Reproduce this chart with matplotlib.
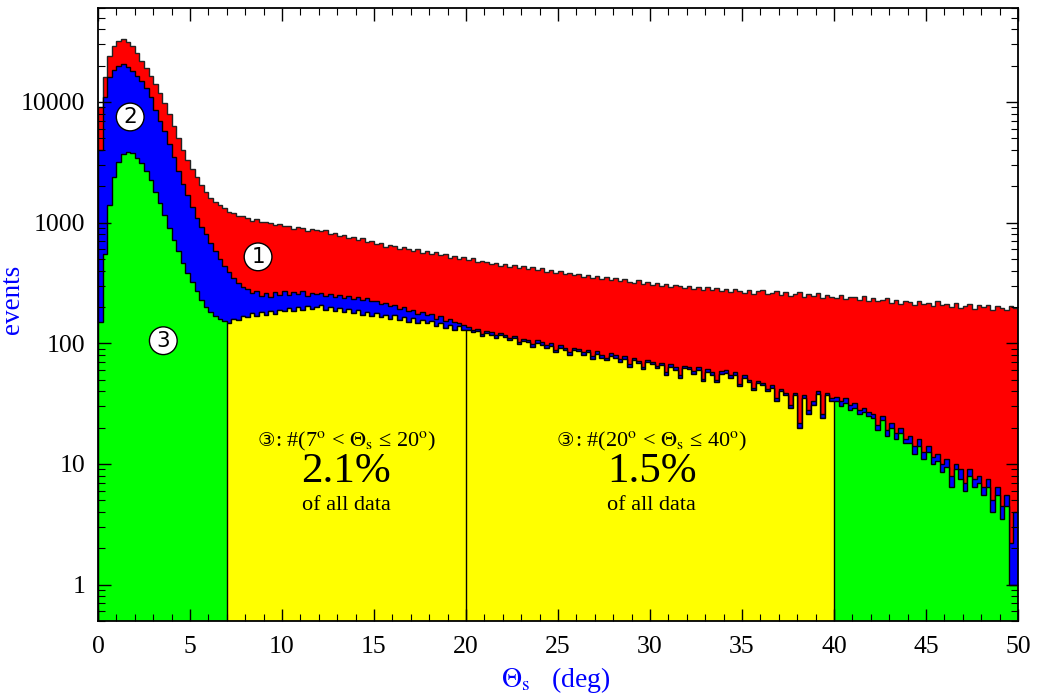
import numpy as np
import matplotlib
matplotlib.use("Agg")
import matplotlib.pyplot as plt
from matplotlib import ticker
from matplotlib.offsetbox import TextArea, HPacker, AnnotationBbox

plt.rcParams['font.family'] = ['Liberation Serif', 'DejaVu Sans']
plt.rcParams['mathtext.fontset'] = 'stix'

# histogram range (deg), 0.25 deg bins
theta_lo, theta_hi = 0.0, 50.0

# (1) all events
red = [
    9000, 16000, 24000, 29000, 32000, 33000, 31500, 29000,
    25500, 22000, 19000, 16500, 14000, 11800, 9800, 8000,
    6300, 5000, 4000, 3300, 2800, 2400, 2050, 1800,
    1600, 1470, 1390, 1310, 1235, 1195, 1140, 1125,
    1095, 1040, 1070, 1005, 1020, 990, 950, 975,
    930, 945, 890, 915, 905, 855, 880, 870,
    850, 865, 810, 825, 775, 790, 745, 760,
    720, 745, 690, 700, 660, 675, 630, 650,
    640, 605, 625, 610, 580, 600, 565, 580,
    550, 570, 535, 545, 512, 530, 500, 515,
    490, 505, 470, 482, 475, 455, 462, 440,
    455, 432, 448, 420, 438, 412, 425, 405,
    418, 392, 402, 385, 395, 372, 380, 368,
    375, 355, 366, 350, 362, 340, 352, 335,
    345, 326, 338, 322, 318, 332, 310, 322,
    305, 318, 298, 310, 292, 305, 300, 288,
    298, 282, 292, 278, 295, 276, 285, 270,
    284, 266, 280, 272, 262, 278, 258, 270,
    276, 256, 262, 270, 250, 264, 245, 258,
    266, 242, 255, 248, 262, 238, 252, 244,
    236, 250, 232, 244, 240, 228, 246, 225,
    238, 222, 230, 236, 216, 228, 212, 226,
    220, 208, 226, 212, 216, 202, 222, 206,
    210, 200, 216, 196, 205, 212, 192, 206,
    198, 208, 190, 202, 196, 188, 204, 195,
]

# (2)
blue = [
    4000, 11000, 16000, 18500, 20000, 20500, 19500, 18000,
    16500, 15000, 13000, 11000, 8500, 7000, 5700, 4500,
    3500, 2700, 2100, 1700, 1350, 1100, 920, 800,
    680, 580, 500, 440, 390, 350, 318, 295,
    282, 262, 270, 248, 262, 244, 268, 252,
    272, 250, 266, 254, 270, 248, 262, 256,
    260, 248, 258, 242, 252, 238, 248, 232,
    242, 228, 236, 222, 226, 210, 216, 204,
    208, 192, 200, 184, 190, 176, 182, 170,
    174, 160, 168, 154, 158, 150, 148, 142,
    137, 130, 132, 120, 127, 124, 116, 122,
    118, 111, 115, 103, 109, 107, 99, 106,
    102, 97, 100, 88, 97, 92, 84, 92,
    90, 84, 88, 78, 86, 80, 76, 83,
    80, 74, 78, 67, 76, 71, 64, 73,
    70, 65, 69, 58, 67, 63, 55, 65,
    64, 59, 63, 51, 61, 58, 50, 59,
    60, 55, 58, 46, 55, 50, 43, 49,
    47, 42, 45, 35, 42, 39, 31, 39,
    22, 37, 28, 33, 40, 26, 39, 35,
    36, 33, 35, 31, 32, 28, 29, 27,
    26, 21, 25, 19, 22, 18, 20, 16,
    17, 14, 16, 12.5, 14, 11.5, 12, 10,
    11, 8, 10, 9, 7, 9, 7.5, 8,
    6.5, 7.5, 5, 6.5, 4.5, 5.5, 2.2, 4,
]

# (3)
green = [
    150, 550, 1400, 2400, 3200, 3700, 3850, 3750,
    3450, 3100, 2700, 2250, 1800, 1450, 1150, 900,
    720, 580, 460, 380, 320, 270, 230, 200,
    182, 168, 158, 152, 148, 160, 155, 168,
    165, 178, 168, 180, 172, 186, 176, 190,
    184, 196, 186, 200, 190, 204, 192, 198,
    206, 190, 200, 186, 196, 182, 192, 178,
    188, 172, 182, 168, 178, 164, 172, 160,
    170, 156, 166, 150, 162, 148, 156, 146,
    152, 140, 148, 134, 142, 130, 138, 128,
    130, 124, 126, 114, 121, 118, 110, 116,
    112, 106, 110, 98, 104, 102, 94, 101,
    97, 92, 95, 84, 92, 88, 80, 88,
    86, 80, 84, 74, 82, 76, 72, 79,
    76, 70, 74, 64, 72, 68, 61, 70,
    67, 62, 66, 55, 64, 60, 52, 62,
    61, 56, 60, 49, 58, 55, 48, 56,
    57, 52, 55, 44, 52, 48, 41, 47,
    45, 40, 43, 33, 40, 37, 29, 37,
    20, 35, 26, 31, 38, 24, 37, 33,
    33, 30, 32, 28, 29, 26, 27, 25,
    24, 19, 23, 17, 20, 16, 18, 15,
    15, 12, 14, 11, 12.5, 10, 10.5, 8.5,
    9.5, 6.5, 9, 7.5, 6, 8, 6.5, 7,
    5.5, 6.5, 4, 5.5, 3.5, 4.5, 1, 1,
]

cut_lo, cut_mid, cut_hi = 7, 20, 40
fractions = ['2.1%', '1.5%']

edges = np.linspace(theta_lo, theta_hi, len(red) + 1)
base = 0.1

fig = plt.figure(figsize=(10.38, 6.96), dpi=100)
ax = fig.add_axes([0.0944, 0.1078, 0.8863, 0.8807])

ax.stairs(red, edges, baseline=base, fill=True, facecolor='#ff0000',
          edgecolor='#222222', linewidth=1.0)
ax.stairs(blue, edges, baseline=base, fill=True, facecolor='#0000ff',
          edgecolor='black', linewidth=1.0)
ax.stairs(green, edges, baseline=base, fill=True, facecolor='#00ff00',
          edgecolor='black', linewidth=1.0)

i0 = int(np.searchsorted(edges, cut_lo))
i1 = int(np.searchsorted(edges, cut_hi))
ax.stairs(green[i0:i1], edges[i0:i1 + 1], baseline=base, fill=True,
          facecolor='#ffff00', edgecolor='black', linewidth=1.0)
im = int(np.searchsorted(edges, cut_mid))
ax.vlines(edges[im], base, min(green[im - 1], green[im]), color='black', lw=1.0)

ax.set_yscale('log')
ax.set_xlim(theta_lo, theta_hi)
ax.set_ylim(0.5, 60000)

ax.xaxis.set_major_locator(ticker.MultipleLocator(5))
ax.xaxis.set_minor_locator(ticker.MultipleLocator(1))
ax.yaxis.set_major_locator(ticker.FixedLocator([1, 10, 100, 1000, 10000]))
ax.yaxis.set_minor_locator(ticker.LogLocator(base=10, subs=np.arange(2, 10)))
ax.yaxis.set_major_formatter(ticker.FuncFormatter(lambda v, p: '%d' % v))
ax.yaxis.set_minor_formatter(ticker.NullFormatter())
ax.tick_params(which='both', direction='in', top=True, right=True,
               labelsize=18.5)
ax.tick_params(axis='x', pad=11)
ax.tick_params(axis='y', pad=9)
ax.tick_params(which='major', length=9, width=1.0)
ax.tick_params(which='minor', length=5, width=0.8)
for s in ax.spines.values():
    s.set_linewidth(1.3)

ax.set_xlabel(r'$\Theta_{\rm s}$   (deg)', color='blue', fontsize=20)
ax.set_ylabel('events', color='blue', fontsize=19.5)
ax.xaxis.set_label_coords(0.497, -0.072)
ax.yaxis.set_label_coords(-0.079, 0.525)

# circled markers
circ = dict(boxstyle='circle,pad=0.18', fc='white', ec='black', lw=1.0)
for lab, xx, yy in [('1', 8.7, 520), ('2', 1.75, 7500), ('3', 3.55, 105)]:
    ax.text(xx, yy, lab, ha='center', va='center', fontsize=15.5,
            family='DejaVu Sans', bbox=circ, zorder=5)

# annotation blocks
for (a, b), frac, xc in [((cut_lo, cut_mid), fractions[0], 13.5),
                         ((cut_mid, cut_hi), fractions[1], 30.1)]:
    head = HPacker(children=[
        TextArea('\u2462', textprops=dict(fontsize=14, family='DejaVu Sans')),
        TextArea(': #(%d$^{\\rm o}$ < $\\Theta_{\\rm s}$ \u2264 %d$^{\\rm o}$)' % (a, b),
                 textprops=dict(fontsize=16))],
        align='baseline', pad=0, sep=0)
    ax.add_artist(AnnotationBbox(head, (xc, 15.5), frameon=False,
                                 box_alignment=(0.5, 0.5), pad=0))
    ax.text(xc, 8.6, frac, ha='center', va='center', fontsize=31)
    ax.text(xc, 4.5, 'of all data', ha='center', va='center', fontsize=16)

fig.savefig('out.png', dpi=100)
